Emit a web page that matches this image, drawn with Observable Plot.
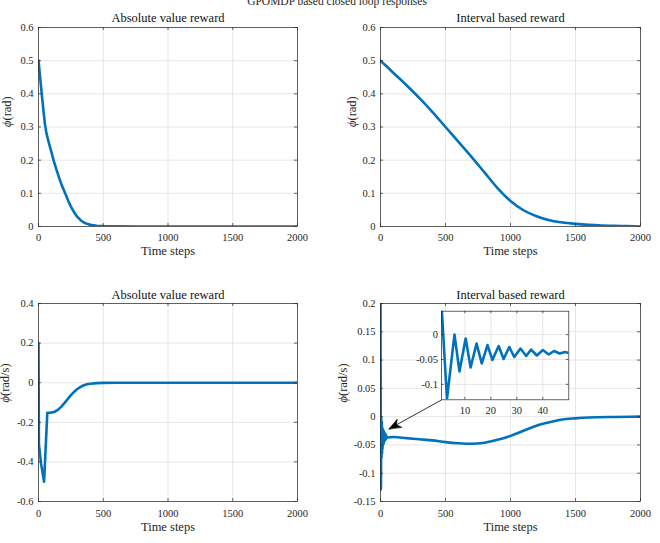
<!DOCTYPE html>
<html><head><meta charset="utf-8">
<script src="https://cdn.jsdelivr.net/npm/d3@7"></script>
<script src="https://cdn.jsdelivr.net/npm/@observablehq/plot@0.6"></script>
<style>
html,body{margin:0;padding:0;background:#fff;overflow:hidden}
#page{position:relative;width:660px;height:543px;overflow:hidden;font-family:"Liberation Serif","Times New Roman",serif}
.panel{position:absolute}
.panel svg{display:block}
#suptitle{position:absolute;left:0;width:674px;text-align:center;top:-4px;font-size:11.5px;line-height:11.5px;color:#262626;white-space:nowrap}
</style></head><body>
<div id="page"><div id="suptitle"></div></div>
<script>
// ---------- text ----------
const figTitle = "GPOMDP based closed loop responses";
const panelTitles = ["Absolute value reward", "Interval based reward", "Absolute value reward", "Interval based reward"];
const xLabel = "Time steps";
const yLabels = ["ϕ(rad)", "ϕ(rad)", "ϕ̇(rad/s)", "ϕ̇(rad/s)"];

// ---------- ticks ----------
const timeTicks = [0, 500, 1000, 1500, 2000];
const phiTicks = [0, 0.1, 0.2, 0.3, 0.4, 0.5, 0.6];
const absRateTicks = [-0.6, -0.4, -0.2, 0, 0.2, 0.4];
const intRateTicks = [-0.15, -0.1, -0.05, 0, 0.05, 0.1, 0.15, 0.2];
const insetXTicks = [10, 20, 30, 40];
const insetYTicks = [-0.1, -0.05, 0];
const insetDomainX = [1, 50];
const insetDomainY = [-0.131, 0.047];

// ---------- series ----------
// Absolute value reward, angle phi
const absPhiT = [0, 10, 20, 30, 40, 50, 62, 80, 100, 116, 140, 160, 180, 206, 230, 250, 275, 300, 325, 350, 375, 400, 450, 500, 600, 800, 1000, 1500, 2000];
const absPhi  = [0.5, 0.46, 0.42, 0.38, 0.343, 0.308, 0.28, 0.252, 0.224, 0.2, 0.17, 0.146, 0.124, 0.1, 0.077, 0.06, 0.043, 0.029, 0.019, 0.012, 0.008, 0.005, 0.002, 0.001, 0.0003, 0, 0, 0, 0];
// Interval based reward, angle phi
const intPhiT = [0, 100, 200, 300, 400, 500, 600, 700, 800, 900, 1000, 1100, 1200, 1300, 1400, 1500, 1600, 1700, 1800, 1900, 2000];
const intPhi  = [0.5, 0.463, 0.426, 0.387, 0.345, 0.3, 0.255, 0.21, 0.163, 0.116, 0.077, 0.049, 0.031, 0.019, 0.012, 0.008, 0.005, 0.003, 0.002, 0.001, 0];
// Absolute value reward, angular rate
const absRateT = [0, 3, 20, 43, 68, 90, 120, 150, 175, 200, 225, 250, 275, 300, 325, 350, 375, 400, 450, 500, 600, 2000];
const absRate  = [0.2, -0.31, -0.41, -0.5, -0.152, -0.152, -0.148, -0.137, -0.122, -0.103, -0.083, -0.063, -0.046, -0.032, -0.021, -0.013, -0.008, -0.005, -0.002, -0.001, 0, 0];
// Interval based reward, angular rate
const intRateT = [0, 1, 3.1, 6, 7.9, 10.3, 12.2, 14.5, 16.5, 18.7, 20.6, 23, 24.9, 27.1, 29, 31.4, 33.6, 35.5, 37.7, 40, 42.3, 44.3, 46.5, 48.5, 50, 100, 200, 300, 400, 500, 600, 700, 800, 900, 1000, 1100, 1200, 1300, 1400, 1500, 1600, 1800, 2000];
const intRate  = [0.2, 0.06, -0.129, 0, -0.074, -0.008, -0.066, -0.018, -0.058, -0.021, -0.051, -0.023, -0.049, -0.025, -0.045, -0.028, -0.043, -0.03, -0.042, -0.031, -0.04, -0.033, -0.038, -0.035, -0.037, -0.036, -0.038, -0.04, -0.042, -0.045, -0.047, -0.048, -0.046, -0.041, -0.034, -0.025, -0.016, -0.01, -0.005, -0.003, -0.0015, -0.0005, 0];
const insetMaxT = 50;
// annotation arrow (time step, rate)
const arrowFrom = [469, 0.0295];
const arrowTo = [65, -0.0218];

// ---------- style ----------
const FONT = '"Liberation Serif","Times New Roman",serif';
const BLUE = "#0072BD";
const GRID = "#e0e0e0";
const AX = "#262626";
const fmt = d => String(d);

function panel(o) {
  const [mt, mr, mb, ml] = o.margins;
  const fw = o.width - ml - mr, fh = o.height - mt - mb;
  const data = o.t.map((d, i) => ({t: d, v: o.v[i]}));
  const tk = o.tick ?? 3;
  const marks = [
    Plot.frame({fill: "white"}),
    Plot.gridX(o.xTicks, {stroke: GRID, strokeOpacity: 1, strokeWidth: 0.8}),
    Plot.gridY(o.yTicks, {stroke: GRID, strokeOpacity: 1, strokeWidth: 0.8}),
    ...(o.before || []),
    Plot.line(data, {x: "t", y: "v", stroke: BLUE, strokeWidth: 2.6, curve: o.curve || "linear", clip: true, strokeLinejoin: "round"}),
    Plot.tickX(o.xTicks, {x: d => d, insetTop: fh - tk, stroke: AX, strokeWidth: 0.7}),
    Plot.tickX(o.xTicks, {x: d => d, insetBottom: fh - tk, stroke: AX, strokeWidth: 0.7}),
    Plot.tickY(o.yTicks, {y: d => d, insetRight: fw - tk, stroke: AX, strokeWidth: 0.7}),
    Plot.tickY(o.yTicks, {y: d => d, insetLeft: fw - tk, stroke: AX, strokeWidth: 0.7}),
    Plot.frame({stroke: AX, strokeWidth: 0.7}),
    Plot.text(o.xTicks, {x: d => d, frameAnchor: "bottom", lineAnchor: "middle", dy: o.xTickDy, text: fmt, fill: AX}),
    Plot.text(o.yTicks, {y: d => d, frameAnchor: "left", lineAnchor: "middle", dx: o.yTickDx, textAnchor: "end", text: fmt, fill: AX}),
    o.title ? Plot.text([o.title], {frameAnchor: "top", lineAnchor: "middle", dy: o.titleDy, fontSize: 12.5, fill: "#111"}) : null,
    o.xlabel ? Plot.text([o.xlabel], {frameAnchor: "bottom", lineAnchor: "middle", dy: o.xlabelDy, fontSize: 12.5, fill: AX}) : null,
    o.ylabel ? Plot.text([o.ylabel], {frameAnchor: "left", lineAnchor: "middle", dx: -o.ylabelOffset, rotate: -90, fontSize: 12.5, fill: AX}) : null,
    ...(o.after || [])
  ].filter(Boolean);
  return Plot.plot({
    width: o.width, height: o.height,
    marginTop: mt, marginRight: mr, marginBottom: mb, marginLeft: ml,
    x: {domain: o.xDomain, axis: null}, y: {domain: o.yDomain, axis: null},
    style: {fontFamily: FONT, fontSize: "10.5px", color: AX, background: "transparent", overflow: "visible"},
    marks
  });
}

function place(svg, left, top) {
  const d = document.createElement("div");
  d.className = "panel";
  d.style.left = left + "px";
  d.style.top = top + "px";
  d.appendChild(svg);
  document.getElementById("page").appendChild(d);
}

document.getElementById("suptitle").textContent = figTitle;

const common = {xDomain: [0, 2000], xTicks: timeTicks, xlabel: xLabel, yTickDx: -5, curve: "monotone-x"};

place(panel({...common, t: absPhiT, v: absPhi, curve: "linear", yDomain: [0, 0.6], yTicks: phiTicks,
  title: panelTitles[0], ylabel: yLabels[0], width: 330, height: 270, margins: [27, 33, 44, 38],
  xTickDy: 11.3, titleDy: -9.7, xlabelDy: 24.7, ylabelOffset: 32}), 0, 0);

place(panel({...common, t: intPhiT, v: intPhi, yDomain: [0, 0.6], yTicks: phiTicks,
  title: panelTitles[1], ylabel: yLabels[1], width: 330, height: 270, margins: [27, 20, 44, 50],
  xTickDy: 11.3, titleDy: -9.7, xlabelDy: 24.7, ylabelOffset: 29}), 330, 0);

place(panel({...common, t: absRateT, v: absRate, curve: "linear", yDomain: [-0.6, 0.4], yTicks: absRateTicks,
  title: panelTitles[2], ylabel: yLabels[2], width: 330, height: 273, margins: [33, 33, 42, 38],
  xTickDy: 11.7, titleDy: -9, xlabelDy: 25.7, ylabelOffset: 33.5}), 0, 270);

// bottom-right: first pass to read the library's scales for the arrow head direction
const brOpts = {...common, t: intRateT, v: intRate, yDomain: [-0.15, 0.2], yTicks: intRateTicks,
  title: panelTitles[3], ylabel: yLabels[3], width: 330, height: 273, margins: [33, 20, 42, 50],
  xTickDy: 11.7, titleDy: -9, xlabelDy: 25.7, ylabelOffset: 37.5};
const br0 = panel(brOpts);
const sx = br0.scale("x"), sy = br0.scale("y");
const pdx = sx.apply(arrowTo[0]) - sx.apply(arrowFrom[0]);
const pdy = sy.apply(arrowTo[1]) - sy.apply(arrowFrom[1]);
const headAngle = Math.atan2(pdx, -pdy) * 180 / Math.PI;
const arrowHead = {
  draw(context, l) {
    const w = 4.6;
    context.moveTo(0, -l);
    context.lineTo(w, 0);
    context.lineTo(0, -0.28 * l);
    context.lineTo(-w, 0);
    context.closePath();
  }
};
const arrowMarks = [
  Plot.link([{a: arrowFrom, b: arrowTo}], {x1: d => d.a[0], y1: d => d.a[1], x2: d => d.b[0], y2: d => d.b[1], stroke: "#000", strokeWidth: 0.8}),
  Plot.vector([arrowTo], {x: d => d[0], y: d => d[1], length: 12, rotate: headAngle, anchor: "end", shape: arrowHead, fill: "#000", stroke: "#000", strokeWidth: 0.5})
];
place(panel({...brOpts, after: arrowMarks}), 330, 270);

// inset
const insetIdx = intRateT.map((t, i) => i).filter(i => intRateT[i] <= insetMaxT);
place(panel({t: insetIdx.map(i => intRateT[i]), v: insetIdx.map(i => intRate[i]),
  xDomain: insetDomainX, yDomain: insetDomainY, xTicks: insetXTicks, yTicks: insetYTicks,
  width: 180, height: 120, margins: [10.7, 13.7, 20.7, 39], tick: 2.5,
  xTickDy: 10.7, yTickDx: -3.5}), 402, 300);

// italic phi in axis labels
d3.selectAll("#page svg text").each(function() {
  const s = this.textContent;
  if (s.startsWith("ϕ")) {
    const n = s.startsWith("ϕ̇") ? 2 : 1;
    const el = d3.select(this);
    el.text(null);
    el.append("tspan").attr("font-style", "italic").text(s.slice(0, n));
    el.append("tspan").text(s.slice(n));
  }
});
</script>
</body></html>
